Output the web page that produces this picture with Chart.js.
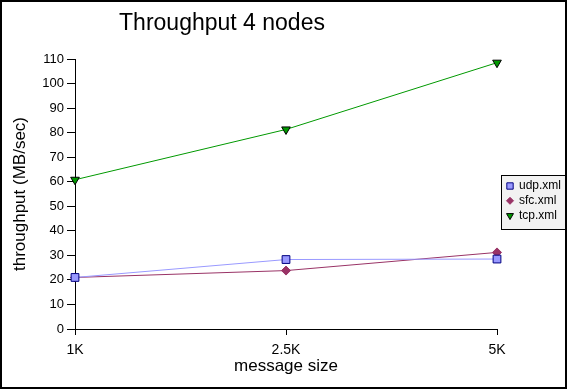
<!DOCTYPE html>
<html>
<head>
<meta charset="utf-8">
<script src="https://cdn.jsdelivr.net/npm/chart.js@4"></script>
<style>
  html, body { margin: 0; padding: 0; background: #fff; }
  #wrap { width: 567px; height: 389px; }
</style>
</head>
<body>
<div id="wrap"><canvas id="throughput-chart" width="567" height="389"></canvas></div>
<script>
const sizes = ['1K', '2.5K', '5K'];
const udp = [21, 28.3, 28.5];
const sfc = [21, 23.8, 31.2];
const tcp = [60.8, 81.3, 108.5];

const font = 'Liberation Sans, Arial, sans-serif';

// title, outer border and boxed legend are drawn by hand to match the original
const decor = {
    id: 'decor',
    afterDraw(chart) {
        const ctx = chart.ctx;
        ctx.save();
        ctx.strokeStyle = '#000';
        ctx.lineWidth = 1;

        ctx.fillStyle = '#000';
        ctx.font = '23px ' + font;
        ctx.textAlign = 'center';
        ctx.textBaseline = 'middle';
        ctx.fillText('Throughput 4 nodes', 222, 24);

        // legend box
        ctx.fillStyle = '#f2f2f2';
        ctx.fillRect(501, 175, 66, 55);
        ctx.strokeRect(501.5, 175.5, 65, 54);

        ctx.font = '12px ' + font;
        ctx.textAlign = 'left';
        chart.data.datasets.forEach((ds, i) => {
            const y = 186 + i * 14.8;
            ctx.fillStyle = ds.pointBackgroundColor;
            ctx.strokeStyle = ds.pointBorderColor;
            ctx.lineWidth = 1;
            Chart.helpers.drawPoint(ctx, {
                pointStyle: ds.pointStyle,
                radius: ds.pointRadius - 1,
                rotation: ds.pointRotation || 0,
                borderWidth: 1
            }, 510, y);
            ctx.fillStyle = '#000';
            ctx.fillText(ds.label, 519, y);
        });

        ctx.strokeStyle = '#000';
        ctx.lineWidth = 2;
        ctx.strokeRect(1, 1, 565, 387);
        ctx.restore();
    }
};

const $chartElement = document.getElementById('throughput-chart');

const throughputChart = new Chart($chartElement, {
    type: 'line',
    data: {
        labels: sizes,
        datasets: [{
            label: 'udp.xml',
            data: udp,
            borderColor: '#9999ff',
            pointBackgroundColor: '#9999ff',
            pointBorderColor: '#000080',
            pointStyle: 'rect',
            pointRadius: 5.5
        }, {
            label: 'sfc.xml',
            data: sfc,
            borderColor: '#993366',
            pointBackgroundColor: '#993366',
            pointBorderColor: '#993366',
            pointStyle: 'rectRot',
            pointRadius: 4.5
        }, {
            label: 'tcp.xml',
            data: tcp,
            borderColor: '#009900',
            pointBackgroundColor: '#009900',
            pointBorderColor: '#000',
            pointStyle: 'triangle',
            pointRotation: 180,
            pointRadius: 5
        }]
    },
    options: {
        responsive: false,
        animation: false,
        elements: {
            line: { borderWidth: 1, tension: 0 },
            point: { borderWidth: 1 }
        },
        layout: {
            padding: { top: 59, right: 70, left: 0, bottom: 0 }
        },
        plugins: {
            legend: { display: false },
            tooltip: { enabled: false }
        },
        scales: {
            x: {
                offset: false,
                afterFit(scale) { scale.height = 60; },
                border: { color: '#000', width: 1 },
                grid: { drawOnChartArea: false, color: '#000', tickLength: 6 },
                ticks: { color: '#000', font: { family: font, size: 14 }, padding: 7, maxRotation: 0 },
                title: {
                    display: true,
                    text: 'message size',
                    color: '#000',
                    font: { family: font, size: 17 },
                    padding: { top: 0, bottom: 12 }
                }
            },
            y: {
                min: 0,
                max: 110,
                afterFit(scale) { scale.width = 75; },
                border: { color: '#000', width: 1 },
                grid: { drawOnChartArea: false, color: '#000', tickLength: 8 },
                ticks: { stepSize: 10, color: '#000', font: { family: font, size: 13 }, padding: 3 },
                title: {
                    display: true,
                    text: 'throughput (MB/sec)',
                    color: '#000',
                    font: { family: font, size: 17 },
                    padding: { top: 10, bottom: 0 }
                }
            }
        }
    },
    plugins: [decor]
});
</script>
</body>
</html>
